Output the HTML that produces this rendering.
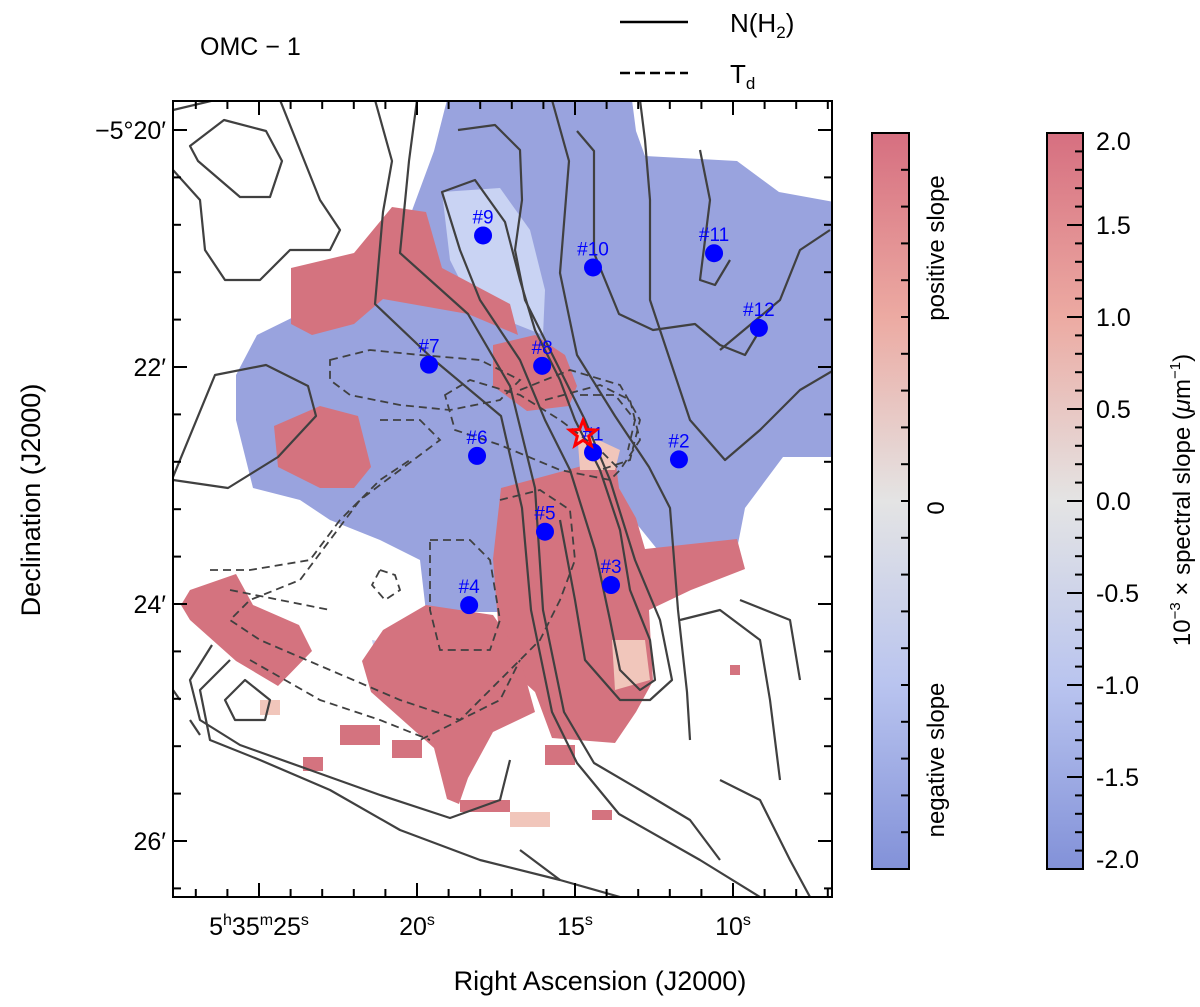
<!DOCTYPE html>
<html><head><meta charset="utf-8"><style>
body{margin:0;background:#fff;}
svg{display:block;font-family:"Liberation Sans",sans-serif;}
</style></head><body>
<svg id="fig" width="1200" height="1007" viewBox="0 0 1200 1007" xmlns="http://www.w3.org/2000/svg">
<defs>
<linearGradient id="cmap" x1="0" y1="0" x2="0" y2="1">
<stop offset="0" stop-color="#d66f80"/>
<stop offset="0.25" stop-color="#ecaaa2"/>
<stop offset="0.5" stop-color="#e4e4e4"/>
<stop offset="0.75" stop-color="#b9c4ef"/>
<stop offset="1" stop-color="#8291d8"/>
</linearGradient>
<clipPath id="mapclip"><rect x="173" y="101" width="659" height="796"/></clipPath>
</defs>
<g id="map" clip-path="url(#mapclip)">
<path fill="#99a3de" d="M447,100 L632,100 L636,131 L645,156 L737,161 L779,192 L834,202 L834,457 L783,457 L745,508 L737,549 L657,549 L636,523 L619,488 L552,477 L501,498 L497,579 L518,612 L426,612 L420,560 L380,540 L330,520 L300,500 L253,488 L236,420 L236,375 L257,335 L320,304 L350,304 L400,243 L434,151 Z"/>
<path fill="#c9d3f3" d="M442,192 L500,188 L530,230 L545,290 L543,335 L505,320 L470,300 L450,260 Z"/>
<path fill="#c8d2f2" d="M372,640 L430,650 L470,690 L460,720 L420,710 L380,680 Z"/>
<g fill="#d4737f">
<path d="M291,268 L354,253 L392,207 L426,212 L442,268 L510,304 L518,335 L468,314 L383,299 L354,324 L312,335 L291,324 Z"/>
<path d="M274,426 L320,406 L358,416 L371,467 L354,488 L320,488 L278,467 Z"/>
<path d="M493,345 L535,335 L565,355 L577,386 L569,406 L527,411 L493,386 Z"/>
<path d="M501,488 L615,457 L619,488 L636,518 L645,549 L737,539 L745,569 L691,590 L649,610 L653,681 L636,712 L615,743 L552,738 L535,692 L501,661 L493,559 Z"/>
<path d="M181,605 L190,590 L236,574 L253,605 L299,625 L312,651 L278,686 L236,661 L190,620 Z"/>
<path d="M383,630 L426,605 L493,615 L518,651 L535,712 L493,732 L468,778 L459,804 L447,799 L434,748 L371,692 L362,661 Z"/>
<rect x="340" y="725" width="40" height="20"/><rect x="392" y="740" width="30" height="18"/>
<rect x="303" y="757" width="20" height="14"/><rect x="545" y="745" width="30" height="20"/>
<rect x="592" y="810" width="20" height="10"/><rect x="730" y="665" width="10" height="10"/>
<rect x="460" y="800" width="50" height="12"/>
</g>
<g fill="#f1c6bb">
<path d="M577,430 L620,450 L615,470 L580,470 Z"/>
<path d="M612,640 L645,640 L650,680 L615,690 Z"/>
<rect x="510" y="812" width="40" height="15"/><rect x="260" y="700" width="20" height="15"/>
</g>
<g fill="none" stroke="#404040" stroke-width="2.2" stroke-linejoin="round">
<path d="M190,146 L224,120 L266,131 L282,161 L270,197 L240,197 L198,161 Z"/>
<path d="M173,477 L215,375 L266,365 L308,386 L316,416 L278,457 L228,488 L173,480"/>
<path d="M173,110 L215,100 M173,170 L200,200 L205,250 L225,280 L260,280 L290,250 L330,250 L340,230 L320,200 L300,150 L280,100"/>
<path d="M375,100 L392,161 L383,212 L375,304 L434,360 L501,416 L522,508 L531,610 L552,712 L577,763 L619,814 L700,860 L760,897"/>
<path d="M417,100 L409,161 L400,253 L468,314 L510,386 L535,488 L543,610 L564,712 L594,763 L640,790 L690,820 L720,860"/>
<path d="M442,192 L475,180 L505,222 L520,280 L535,330 L560,380 L575,420 L600,470 L620,530 L630,590 L650,640 L655,680 L640,690 L620,670 L610,620 L595,550 L570,470 L545,420 L520,360 L480,300 L460,250 Z"/>
<path d="M458,130 L495,125 L520,150 L522,200 L515,250 L525,300 L555,360 L585,420 L610,480 L635,560 L660,620 L672,680 L650,700 L620,700 L585,660 L575,600 L560,520"/>
<path d="M552,100 L569,161 L560,273 L577,355 L615,416 L649,467 L670,508 L678,610 L687,692 L690,740"/>
<path d="M577,131 L594,151 L594,253 L619,314 L653,330 L695,324 L720,345 L745,355 L760,330"/>
<path d="M640,100 L645,140 L650,200 L650,300 L690,420 L725,460 L760,430 L800,390 L834,370"/>
<path d="M700,150 L710,200 L700,280 L715,285 L730,260 M720,350 L780,300 L800,250 L830,230"/>
<path d="M230,660 L200,690 L210,740 L260,760 L330,790 L400,830 L480,860 L560,880 L620,897"/>
<path d="M245,680 L225,700 L235,720 L265,720 L270,700 Z"/>
<path d="M212,645 L190,680 L200,720 L240,745 L310,770 L380,795 L450,818 L500,800 L510,760"/>
<path d="M680,620 L720,610 L760,640 L770,700 L780,780 M740,600 L790,620 L800,680 M720,780 L760,800 L790,860 L810,897"/>
<path d="M173,690 L180,700 M190,720 L200,735 M520,850 L560,880"/>
</g>
<g fill="none" stroke="#404040" stroke-width="1.8" stroke-dasharray="8,5">
<path d="M330,360 L370,350 L420,355 L480,360 L520,380 L500,400 L450,410 L400,405 L350,395 L330,380 Z"/>
<path d="M445,395 L470,380 L520,395 L560,420 L600,450 L620,470 L610,480 L560,470 L500,445 L455,430 Z"/>
<path d="M520,390 L570,370 L620,385 L640,420 L630,460 L600,470"/>
<path d="M545,400 L600,385 L630,400 L640,440 L620,470"/>
<path d="M580,395 L615,395 L635,420 L628,450"/>
<path d="M380,420 L420,420 L440,440 L400,470 L360,500 L330,540 L300,580 L250,600 L230,620 L260,640 L330,670 L400,700 L460,720 L500,700 L520,660"/>
<path d="M210,570 L250,570 L310,560 L340,520 L380,480 L410,460 M230,590 L280,600 L330,610"/>
<path d="M430,540 L470,540 L490,560 L500,620 L490,650 L440,650 L430,610 Z"/>
<path d="M380,570 L395,575 L400,590 L385,600 L372,585 Z"/>
<path d="M500,500 L540,490 L570,510 L575,560 L560,600 L540,640 L500,680 L460,720 L420,740 M250,660 L320,700 L380,720 L430,740"/>
</g>
</g>
<g id="sources"></g>
<rect x="173" y="101" width="659" height="796" fill="none" stroke="#000" stroke-width="2"/>
<g id="axes"></g>
<text x="200" y="55" font-size="25">OMC − 1</text>
<g>
<line x1="620" y1="22" x2="688" y2="22" stroke="#000" stroke-width="2.5"/>
<text x="730" y="32" font-size="26">N(H<tspan font-size="17" dy="6">2</tspan><tspan dy="-6">)</tspan></text>
<line x1="620" y1="73" x2="688" y2="73" stroke="#000" stroke-width="2.5" stroke-dasharray="10,5"/>
<text x="730" y="83" font-size="26">T<tspan font-size="17" dy="6">d</tspan></text>
</g>
<text x="600" y="990" font-size="27" text-anchor="middle">Right Ascension (J2000)</text>
<text transform="translate(40,500) rotate(-90)" font-size="27" text-anchor="middle">Declination (J2000)</text>
<rect x="872" y="133" width="37" height="736" fill="url(#cmap)" stroke="#000" stroke-width="2"/>
<g id="cb1ticks"></g>
<text transform="translate(944,248) rotate(-90)" font-size="24" text-anchor="middle">positive slope</text>
<text transform="translate(944,508) rotate(-90)" font-size="24" text-anchor="middle">0</text>
<text transform="translate(944,760) rotate(-90)" font-size="24" text-anchor="middle">negative slope</text>
<rect x="1047" y="133" width="36" height="736" fill="url(#cmap)" stroke="#000" stroke-width="2"/>
<g id="cb2ticks"></g>
<text transform="translate(1190,500) rotate(-90)" font-size="24" text-anchor="middle">10<tspan font-size="15" dy="-10">−3</tspan><tspan dy="10"> × spectral slope (</tspan><tspan font-style="italic">μ</tspan>m<tspan font-size="15" dy="-10">−1</tspan><tspan dy="10">)</tspan></text>
<script>
const srcNames=["#1","#2","#3","#4","#5","#6","#7","#8","#9","#10","#11","#12"];
const srcRA=[14.43,11.71,13.86,18.35,15.95,18.10,19.62,16.04,17.91,14.43,10.60,9.18];
const srcDec=[22.72,22.78,23.84,24.01,23.39,22.75,21.98,21.99,20.89,21.16,21.04,21.67];
const raTicks=[25,20,15,10];
const decTicks=[20,22,24,26];
const cbValues=[2.0,1.5,1.0,0.5,0.0,-0.5,-1.0,-1.5,-2.0];
const cbLabels=["2.0","1.5","1.0","0.5","0.0","-0.5","-1.0","-1.5","-2.0"];
const NS="http://www.w3.org/2000/svg";
function xRA(s){return 575+(15-s)*31.6;}
function yDec(m){return 130+(m-20)*118.5;}
function yCb(v){return 133+(2-v)*184;}
function mk(tag,attrs,parent){const e=document.createElementNS(NS,tag);for(const k in attrs)e.setAttribute(k,attrs[k]);parent.appendChild(e);return e;}
function addSpans(t,parts){parts.forEach(p=>{const s=document.createElementNS(NS,'tspan');s.textContent=p[0];if(p[1]){s.setAttribute('font-size','16');s.setAttribute('dy','-10');}else if(p[2]){s.setAttribute('dy','10');}t.appendChild(s);});}
const src=document.getElementById('sources');
srcNames.forEach((n,i)=>{
 const x=xRA(srcRA[i]),y=yDec(srcDec[i]);
 const c=mk('ellipse',{cx:x,cy:y,rx:9,ry:9,fill:'#0000ff'},src);
 
 
 const t=mk('text',{x:x,y:y-12,'font-size':19,'text-anchor':'middle',fill:'#0000ff'},src);
 t.textContent=n;
 
 
});
const st=document.createElementNS(NS,'polygon');
{const cx=xRA(srcRA[0])-10,cy=yDec(srcDec[0])-18;let p=[];for(let k=0;k<10;k++){const r=k%2?6:14,a=-Math.PI/2+k*Math.PI/5;p.push((cx+r*Math.cos(a)).toFixed(1)+','+(cy+r*Math.sin(a)).toFixed(1));}
st.setAttribute('points',p.join(' '));st.setAttribute('fill','none');st.setAttribute('stroke','#ff0000');st.setAttribute('stroke-width','3');}


src.appendChild(st);
const ax=document.getElementById('axes');
for(let s=27;s>=6;s--){const x=xRA(s);if(x<173||x>832)continue;const L=(s%5===0)?14:8;
 mk('line',{x1:x,y1:897,x2:x,y2:897-L,stroke:'#000','stroke-width':2},ax);
 mk('line',{x1:x,y1:101,x2:x,y2:101+L,stroke:'#000','stroke-width':2},ax);}
for(let m=19.6;m<=26.8;m+=0.4){const y=yDec(m);if(y<101||y>897)continue;const L=(Math.abs(m-Math.round(m))<0.01&&Math.round(m)%2===0)?14:8;
 mk('line',{x1:173,y1:y,x2:173+L,y2:y,stroke:'#000','stroke-width':2},ax);
 mk('line',{x1:832,y1:y,x2:832-L,y2:y,stroke:'#000','stroke-width':2},ax);}
raTicks.forEach(s=>{const x=xRA(s);const t=mk('text',{x:x,y:935,'font-size':25,'text-anchor':'middle'},ax);
 if(s===25){addSpans(t,[['5'],['h',1],['35',0,1],['m',1],['25',0,1],['s',1]]);}
 else{addSpans(t,[[String(s)],['s',1]]);}
 
 });
decTicks.forEach(m=>{const y=yDec(m);const t=mk('text',{x:166,y:y+9,'font-size':25,'text-anchor':'end'},ax);
 t.textContent=(m===20?'−5°20′':m+'′');
 
 });
const c1=document.getElementById('cb1ticks');
for(let k=1;k<20;k++){const y=133+k*736/20;mk('line',{x1:909,y1:y,x2:901,y2:y,stroke:'#000','stroke-width':2},c1);}
const c2=document.getElementById('cb2ticks');
for(let v=-1.9;v<2;v+=0.1){const y=yCb(v);mk('line',{x1:1083,y1:y,x2:1075,y2:y,stroke:'#000','stroke-width':2},c2);}
cbValues.forEach((v,i)=>{const y=yCb(v);mk('line',{x1:1083,y1:y,x2:1067,y2:y,stroke:'#000','stroke-width':2},c2);
 const t=mk('text',{x:1096,y:Math.min(Math.max(y+9,150),868),'font-size':25},c2);t.textContent=cbLabels[i];
 
 });
</script>
</svg>
</body></html>
